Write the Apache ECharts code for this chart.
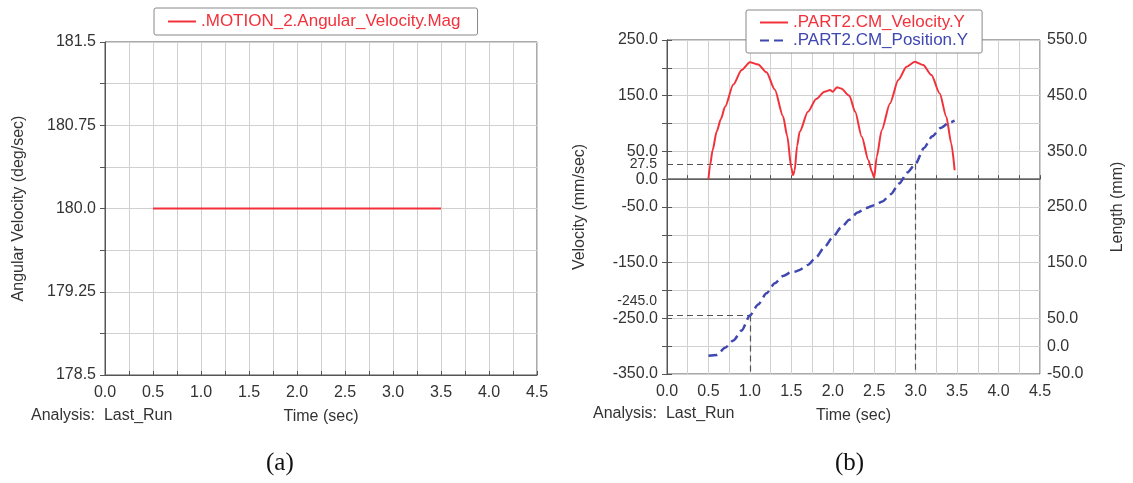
<!DOCTYPE html>
<html>
<head>
<meta charset="utf-8">
<script src="https://cdn.jsdelivr.net/npm/echarts@6/dist/echarts.min.js"></script>
<style>
  html, body { margin: 0; padding: 0; background: #fff; }
  #main { width: 1133px; height: 483px; }
</style>
</head>
<body>
<div id="main"></div>
<script>
// (a) angular velocity of MOTION_2
const angT = [0.5, 3.5];
const angV = [180.0, 180.0];

// (b) velocity (mm/sec) and position (mm) of PART2
const velT = [0.5, 0.52, 0.55, 0.6, 0.65, 0.7, 0.8, 0.9, 1.0, 1.1, 1.2, 1.3, 1.4, 1.45, 1.5, 1.52, 1.54,
  1.57, 1.6, 1.7, 1.8, 1.9, 1.97, 2.0, 2.05, 2.1, 2.2, 2.27, 2.35, 2.43, 2.47, 2.5, 2.53, 2.59, 2.69,
  2.79, 2.89, 2.99, 3.09, 3.19, 3.29, 3.37, 3.43, 3.47];
const velV = [0, 25, 52, 86, 108, 130, 170, 196, 210, 206, 192, 161, 113, 78, 20, 7, 15,
  60, 85, 121, 144, 157, 160, 157, 165, 163, 150, 121, 76, 34, 14, 3, 40, 88, 136,
  178, 202, 211, 205, 187, 154, 112, 64, 16];

const posT = [0.5, 0.6, 0.7, 0.8, 0.9, 1.0, 1.1, 1.2, 1.3, 1.4, 1.5, 1.55, 1.6, 1.7, 1.8, 1.9, 2.0,
  2.1, 2.2, 2.3, 2.4, 2.5, 2.6, 2.7, 2.8, 2.9, 3.0, 3.1, 3.2, 3.3, 3.4, 3.47];
const posV = [-17, -16, -3, 10, 28, 55, 75, 95, 113, 126, 133, 134, 137, 146, 160, 178, 196,
  213, 227, 240, 248, 253, 260, 273, 292, 312, 328, 356, 377, 392, 401, 405];

// reference read-outs (velocity value, time)
const refVel = [27.5, -245.0];
const refT = [3.0, 1.0];

// labelled ticks
const timeLabels = [0, 0.5, 1.0, 1.5, 2.0, 2.5, 3.0, 3.5, 4.0, 4.5];
const angLabels = [178.5, 179.25, 180.0, 180.75, 181.5];
const velLabels = [250, 150, 50, 0, -50, -150, -250, -350];
const lenLabels = [550, 450, 350, 250, 150, 50, 0, -50];

const FONT = 'Liberation Sans';
const RED = '#f2313a';
const BLUE = '#3f47b0';
const AXIS = '#555';
const GRID = '#d0d0d0';

const has = (arr, v) => arr.some(a => Math.abs(a - v) < 1e-6);
const fmt1 = v => v.toFixed(1);
const fmtAng = v => { let s = v.toFixed(2); if (s.endsWith('0')) s = s.slice(0, -1); return s; };

const labelStyle = { color: '#333', fontSize: 16, fontFamily: FONT };

function timeAxis(gridIndex) {
  return {
    type: 'value', gridIndex, min: 0, max: 4.5, interval: 0.25,
    name: 'Time (sec)', nameLocation: 'middle', nameGap: 34,
    nameTextStyle: { color: '#333', fontSize: 16, fontFamily: FONT },
    axisLine: { lineStyle: { color: AXIS } },
    axisTick: { inside: true, length: 4, lineStyle: { color: AXIS } },
    splitLine: { lineStyle: { color: GRID } },
    axisLabel: Object.assign({ margin: 10, formatter: v => has(timeLabels, v) ? fmt1(v) : '' }, labelStyle)
  };
}

function legendBox(extra) {
  return Object.assign({
    selectedMode: false, itemWidth: 28, itemHeight: 14,
    backgroundColor: '#fff', borderColor: '#888', borderWidth: 1, borderRadius: 2,
    itemStyle: { opacity: 0 },
    textStyle: { fontSize: 17, fontFamily: FONT }
  }, extra);
}

const chart = echarts.init(document.getElementById('main'));

const refLines = [
  [{ coord: [0, 0], lineStyle: { type: 'solid', color: '#666', width: 1.5 }, label: { show: false } }, { coord: [4.5, 0] }]
];
refVel.forEach((v, i) => {
  // the lower read-out label sits just above its own dashed line, clear of the -250.0 tick label
  const lbl = v < 0
    ? { show: true, formatter: fmt1(v) + '\n', lineHeight: 28 }
    : { show: true, formatter: fmt1(v) };
  refLines.push([{ coord: [0, v], label: lbl }, { coord: [refT[i], v] }]);
  refLines.push([{ coord: [refT[i], v], label: { show: false } }, { coord: [refT[i], -350] }]);
});

chart.setOption({
  backgroundColor: '#fff',
  animation: false,
  textStyle: { fontFamily: FONT },
  grid: [
    { left: 105, top: 42, width: 432, height: 333, show: true, borderColor: AXIS, borderWidth: 1 },
    { left: 667, top: 40, width: 373, height: 334, show: true, borderColor: AXIS, borderWidth: 1 }
  ],
  legend: [
    legendBox({
      left: 154, top: 8, padding: [5, 17, 5, 13],
      data: [{ name: '.MOTION_2.Angular_Velocity.Mag', textStyle: { color: RED } }]
    }),
    legendBox({
      left: 746, top: 10, orient: 'vertical', padding: [4, 14, 4, 13], itemGap: 1,
      data: [
        { name: '.PART2.CM_Velocity.Y', textStyle: { color: RED } },
        { name: '.PART2.CM_Position.Y', textStyle: { color: BLUE } }
      ]
    })
  ],
  xAxis: [timeAxis(0), timeAxis(1)],
  yAxis: [
    {
      type: 'value', gridIndex: 0, min: 178.5, max: 181.5, interval: 0.375,
      name: 'Angular Velocity (deg/sec)', nameLocation: 'middle', nameGap: 78,
      nameTextStyle: { color: '#333', fontSize: 16, fontFamily: FONT },
      axisLine: { show: true, lineStyle: { color: AXIS } },
      axisTick: { show: true, length: 5, lineStyle: { color: AXIS } },
      splitLine: { lineStyle: { color: GRID } },
      axisLabel: Object.assign({ margin: 9, formatter: v => has(angLabels, v) ? fmtAng(v) : '' }, labelStyle)
    },
    {
      type: 'value', gridIndex: 1, min: -350, max: 250, interval: 50,
      name: 'Velocity (mm/sec)', nameLocation: 'middle', nameGap: 79,
      nameTextStyle: { color: '#333', fontSize: 16, fontFamily: FONT },
      axisLine: { show: true, onZero: false, lineStyle: { color: AXIS } },
      axisTick: { show: true, length: 5, lineStyle: { color: AXIS } },
      splitLine: { lineStyle: { color: GRID } },
      axisLabel: Object.assign({ margin: 9, formatter: v => has(velLabels, v) ? fmt1(v) : '' }, labelStyle)
    },
    {
      type: 'value', gridIndex: 1, position: 'right', min: -50, max: 550, interval: 50,
      name: 'Length (mm)', nameLocation: 'middle', nameGap: 70,
      nameTextStyle: { color: '#333', fontSize: 16, fontFamily: FONT },
      axisLine: { show: true, lineStyle: { color: AXIS } },
      axisTick: { show: true, length: 5, lineStyle: { color: AXIS } },
      splitLine: { show: false },
      axisLabel: Object.assign({ margin: 7, formatter: v => has(lenLabels, v) ? fmt1(v) : '' }, labelStyle)
    }
  ],
  series: [
    {
      name: '.MOTION_2.Angular_Velocity.Mag', type: 'line', xAxisIndex: 0, yAxisIndex: 0,
      symbol: 'none', color: RED, lineStyle: { width: 2 },
      data: angT.map((t, i) => [t, angV[i]])
    },
    {
      name: '.PART2.CM_Velocity.Y', type: 'line', xAxisIndex: 1, yAxisIndex: 1,
      symbol: 'none', color: RED, lineStyle: { width: 2 }, z: 4,
      smooth: 0.25, smoothMonotone: 'x',
      data: velT.map((t, i) => [t, velV[i]]),
      markLine: {
        silent: true, symbol: ['none', 'none'], z: 2,
        lineStyle: { type: [6, 4], color: '#555', width: 1.2 },
        label: { position: 'start', distance: 10, color: '#333', fontSize: 14, fontFamily: FONT },
        data: refLines
      }
    },
    {
      name: '.PART2.CM_Position.Y', type: 'line', xAxisIndex: 1, yAxisIndex: 2,
      symbol: 'none', color: BLUE, lineStyle: { width: 2.5, type: [9, 5] }, z: 3,
      smooth: 0.25, smoothMonotone: 'x',
      data: posT.map((t, i) => [t, posV[i]])
    }
  ],
  graphic: [
    { type: 'text', left: 31, top: 408, style: { text: 'Analysis:  Last_Run', fill: '#333', font: '16px "Liberation Sans"' } },
    { type: 'text', left: 593, top: 406, style: { text: 'Analysis:  Last_Run', fill: '#333', font: '16px "Liberation Sans"' } },
    { type: 'text', left: 266, top: 451, style: { text: '(a)', fill: '#111', font: '25px "Liberation Serif"' } },
    { type: 'text', left: 835, top: 451, style: { text: '(b)', fill: '#111', font: '25px "Liberation Serif"' } }
  ]
});
</script>
</body>
</html>
